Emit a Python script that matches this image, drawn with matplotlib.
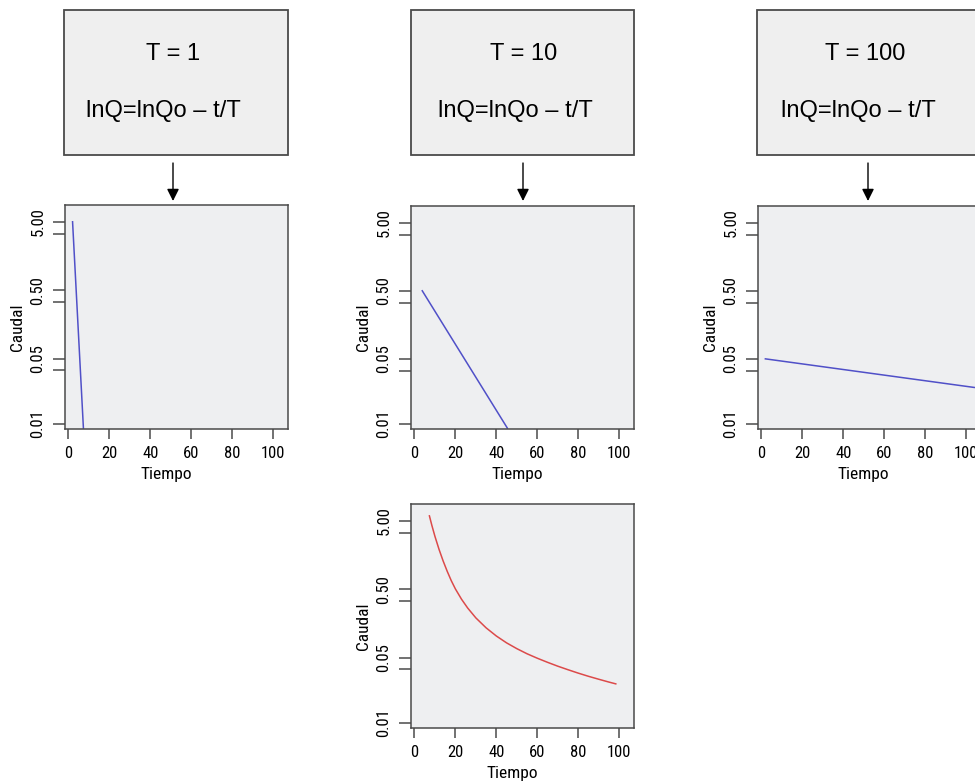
"""Recession curves: lnQ = lnQo - t/T for three T values, plus combined curve."""

import matplotlib

matplotlib.use("Agg")

import matplotlib.pyplot as plt
from matplotlib import font_manager
from matplotlib.patches import Rectangle
from matplotlib.ticker import FixedLocator, NullFormatter

# --- data ------------------------------------------------------------------
box_titles = ["T = 1", "T = 10", "T = 100"]
box_formula = "lnQ=lnQo \u2013 t/T"

t_T1 = [2.0, 7.3]
q_T1 = [5.0, 0.0048]
t_T10 = [3.8, 45.4]
q_T10 = [0.5, 0.0048]
t_T100 = [1.9, 104.0]
q_T100 = [0.05, 0.019]

t_mix = [7.3, 8.5, 10, 12, 14, 16, 18, 20, 23, 26, 30, 35, 40, 45, 50, 55, 60, 65, 70, 75,
         80, 85, 90, 95, 98.4]
q_mix = [5.90, 4.28, 2.96, 1.91, 1.294, 0.912, 0.664, 0.504, 0.356, 0.265, 0.190, 0.136,
         0.1033, 0.0820, 0.0675, 0.0568, 0.0489, 0.0426, 0.0374, 0.0332, 0.0296, 0.0266,
         0.0241, 0.0219, 0.0206]

x_ticks = [0, 20, 40, 60, 80, 100]
y_ticks = [5.0, 0.5, 0.05, 0.0055]
y_tick_labels = ["5.00", "0.50", "0.05", "0.01"]
y_dup_ticks = [3.35, 0.335, 0.0335]

names = {f.name for f in font_manager.fontManager.ttflist}
AX_FONT = "Liberation Sans"
for cand in ["Liberation Sans Narrow", "Roboto Condensed", "Open Sans Condensed"]:
    if cand in names:
        AX_FONT = cand
        break
BOX_FONT = "Liberation Sans"

W, H = 975, 781
BG = "#eeeff1"
EDGE = "#4a4a4a"
BLUE = "#5050c8"
RED = "#dc4a4a"

fig = plt.figure(figsize=(W / 100, H / 100), dpi=100)


def px_axes(left, top, right, bottom):
    return fig.add_axes([left / W, 1 - bottom / H, (right - left) / W, (bottom - top) / H])


def style(ax, t, q, color, xlab_x):
    ax.set_facecolor(BG)
    ax.plot(t, q, color=color, lw=1.1)
    ax.set_yscale("log")
    ax.set_xlim(-1.7, 107.3)
    ax.set_ylim(0.00466, 8.8)
    ax.set_xticks(x_ticks)
    ax.set_xticklabels([str(v) for v in x_ticks], family=AX_FONT, fontsize=12)
    ax.yaxis.set_major_locator(FixedLocator(y_ticks))
    ax.set_yticklabels(y_tick_labels, family=AX_FONT, fontsize=12, rotation=90, va="center")
    ax.yaxis.set_minor_locator(FixedLocator(y_dup_ticks))
    ax.yaxis.set_minor_formatter(NullFormatter())
    ax.tick_params(axis="x", length=7.2, width=1.1, color=EDGE, pad=5)
    ax.tick_params(axis="y", which="both", length=8.6, width=1.1, color=EDGE, pad=5.5)
    for sp in ax.spines.values():
        sp.set_color(EDGE)
        sp.set_linewidth(1.1)
    ax.set_xlabel("Tiempo", family=AX_FONT, fontsize=12.5)
    ax.xaxis.set_label_coords(xlab_x, -0.17)
    ax.set_ylabel("Caudal", family=AX_FONT, fontsize=12.5)
    ax.yaxis.set_label_coords(-0.18, 0.455)


ax1 = px_axes(65, 205, 288, 429)
style(ax1, t_T1, q_T1, BLUE, 0.455)
ax2 = px_axes(411, 206, 634, 429)
style(ax2, t_T10, q_T10, BLUE, 0.475)
ax3 = px_axes(758, 206, 981, 429)
style(ax3, t_T100, q_T100, BLUE, 0.471)
ax4 = px_axes(411, 504, 634, 728)
style(ax4, t_mix, q_mix, RED, 0.455)

# --- boxes and arrows on a pixel overlay ------------------------------------
ov = fig.add_axes([0, 0, 1, 1], zorder=-1)
ov.set_xlim(0, W)
ov.set_ylim(H, 0)
ov.axis("off")

boxes = [(64, 288, 173, 163, 173), (411, 634, 524, 515, 523), (757, 990, 865, 858, 868)]
for (x0, x1, tx, fx, ax_x), title in zip(boxes, box_titles):
    ov.add_patch(Rectangle((x0, 10), x1 - x0, 145, facecolor="#efefef",
                           edgecolor=EDGE, lw=1.3))
    ov.text(tx, 54, title, ha="center", va="center", family=BOX_FONT, fontsize=17)
    ov.text(fx, 111, box_formula, ha="center", va="center", family=BOX_FONT, fontsize=17)
    ov.annotate("", xy=(ax_x, 201), xytext=(ax_x, 163),
                arrowprops=dict(arrowstyle="-|>", color="black", lw=1.0,
                                mutation_scale=18, shrinkA=0, shrinkB=0))

fig.savefig("out.png", dpi=100, facecolor="white")
